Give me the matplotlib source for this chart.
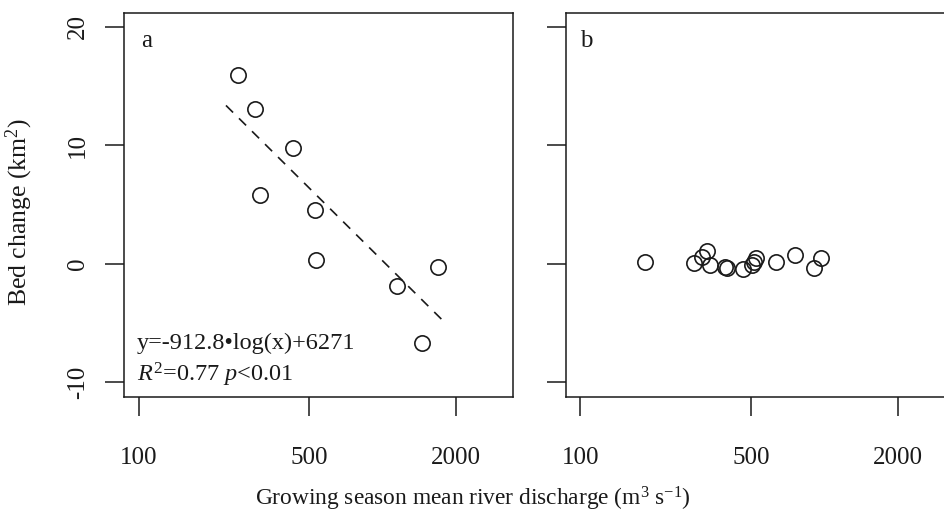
import matplotlib
matplotlib.use("Agg")
import matplotlib.pyplot as plt
import numpy as np

plt.rcParams['font.family'] = ['Liberation Serif', 'DejaVu Serif']
plt.rcParams['mathtext.fontset'] = 'custom'
plt.rcParams['mathtext.rm'] = 'Liberation Serif'
plt.rcParams['mathtext.it'] = 'Liberation Serif:italic'

# ---- data ----
a_discharge = [255.5, 300.8, 315.3, 427.8, 528.5, 535.0, 1152, 1687, 1450]
a_bed_change = [15.89, 13.08, 5.82, 9.76, 4.50, 0.28, -1.89, -0.29, -6.67]
fit_x = [228, 1824]
fit_y = [13.36, -5.06]

b_discharge = [183.9, 292.6, 313.9, 329.1, 339.6, 391.4, 397.8, 465.4,
               507.0, 516.8, 525.2, 634.7, 759.8, 912.4, 969.2]
b_bed_change = [0.14, 0.05, 0.56, 1.12, -0.14, -0.29, -0.34, -0.42,
                -0.14, 0.14, 0.47, 0.14, 0.70, -0.37, 0.47]

xticks = [100, 500, 2000]
xtick_labels = ['100', '500', '2000']
yticks = [-10, 0, 10, 20]
ytick_labels = ['-10', '0', '10', '20']

ink = '#1a1a1a'
fs_tick = 18
fs_eq = 17.5
fs_ylab = 18.5
fs_xlab = 16.8
fs_panel = 18

fig = plt.figure(figsize=(9.45, 5.14), dpi=100)
W = 0.4116
axa = fig.add_axes([0.1312, 0.2276, W, 0.7471])
axb = fig.add_axes([0.5986, 0.2276, W, 0.7471])

for ax in (axa, axb):
    ax.set_xscale('log')
    ax.set_xlim(87, 3430)
    ax.set_ylim(-11.24, 21.16)
    ax.set_xticks(xticks)
    ax.set_xticklabels(xtick_labels)
    ax.minorticks_off()
    ax.set_yticks(yticks)
    for s in ax.spines.values():
        s.set_linewidth(1.1)
        s.set_color(ink)
    ax.tick_params(axis='both', length=14, width=1.1, color=ink,
                   labelcolor=ink, labelsize=fs_tick)
    ax.tick_params(axis='x', pad=22)
    ax.tick_params(axis='y', pad=11)

axa.set_yticklabels(ytick_labels, rotation=90, va='center')
axb.set_yticklabels([])

axa.plot(a_discharge, a_bed_change, linestyle='none', marker='o',
         markersize=11, markerfacecolor='none', markeredgecolor=ink,
         markeredgewidth=1.2)
axa.plot(fit_x, fit_y, color=ink, linewidth=1.2, dashes=(6, 5))

axb.plot(b_discharge, b_bed_change, linestyle='none', marker='o',
         markersize=11, markerfacecolor='none', markeredgecolor=ink,
         markeredgewidth=1.2)

axa.text(0.045, 0.955, 'a', transform=axa.transAxes, fontsize=fs_panel,
         color=ink, va='top', ha='left')
axb.text(0.037, 0.955, 'b', transform=axb.transAxes, fontsize=fs_panel,
         color=ink, va='top', ha='left')

axa.text(0.033, 0.140, 'y=-912.8\u2022log(x)+6271', transform=axa.transAxes,
         fontsize=fs_eq, color=ink, va='center', ha='left')
axa.text(0.033, 0.057, '$R^2$=0.77 $p$<0.01', transform=axa.transAxes,
         fontsize=fs_eq, color=ink, va='center', ha='left')

axa.set_ylabel('Bed change (km$^2$)', fontsize=fs_ylab, color=ink)
axa.yaxis.set_label_coords(-0.228, 0.482)

fig.text(0.5, 0.03, 'Growing season mean river discharge (m$^3$ s$^{-1}$)',
         fontsize=fs_xlab, color=ink, ha='center', va='center')

fig.savefig('out.png', dpi=100)
